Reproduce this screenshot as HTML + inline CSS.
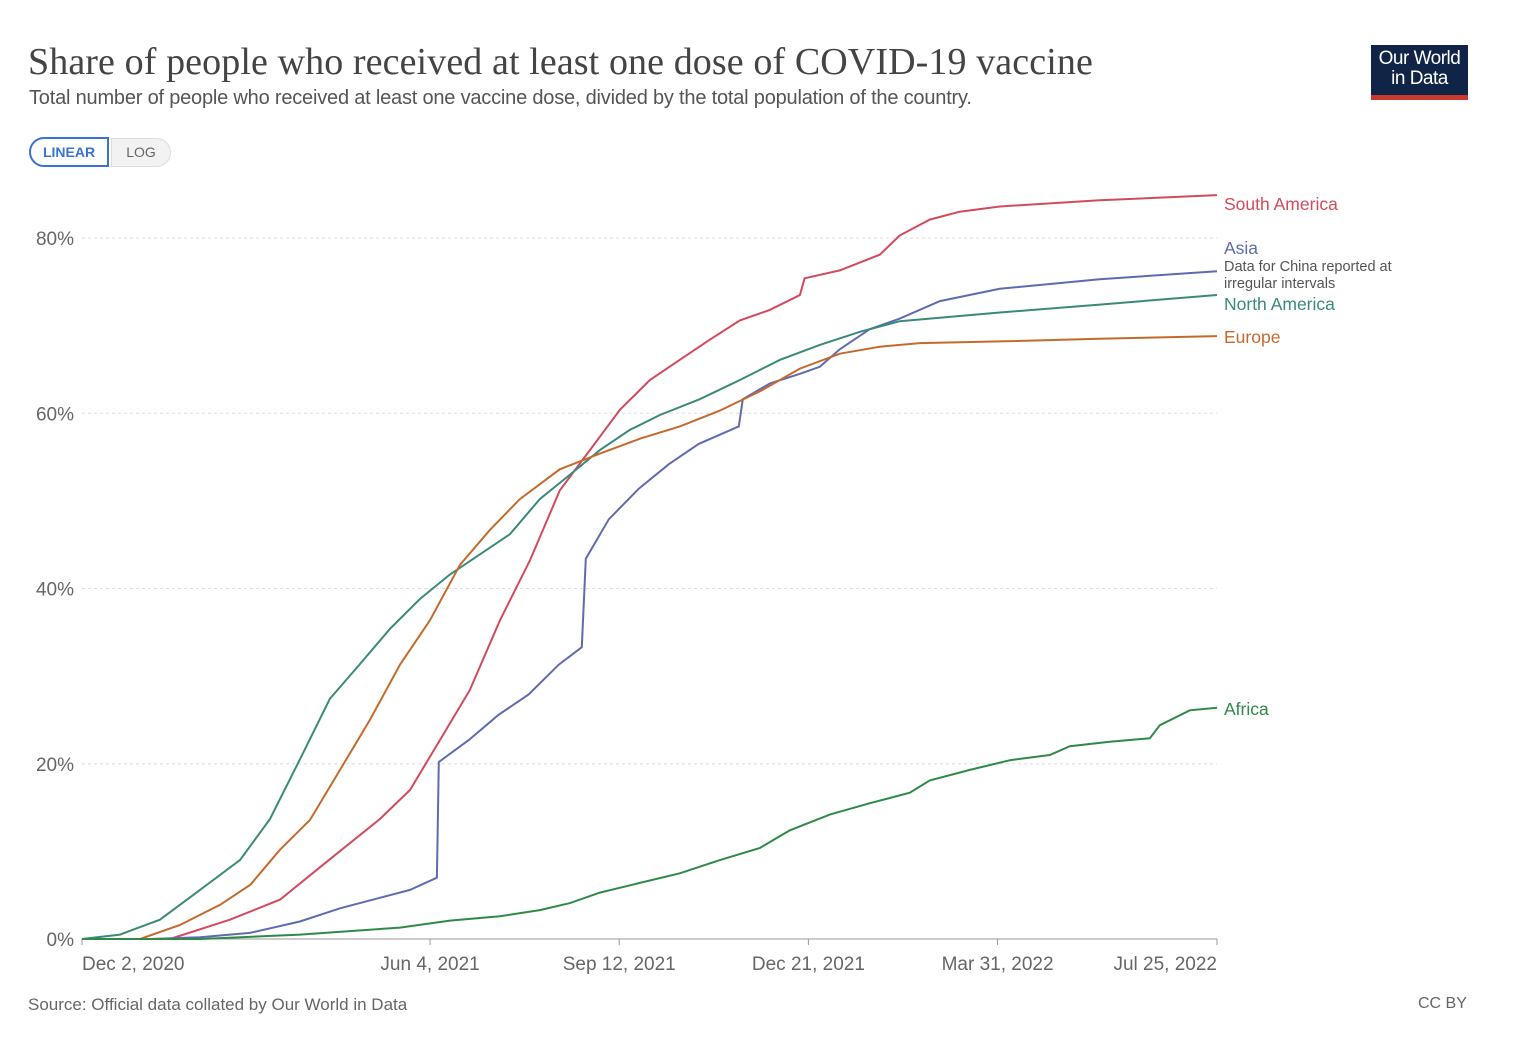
<!DOCTYPE html>
<html><head><meta charset="utf-8"><style>
body{margin:0;background:#fff;width:1536px;height:1056px;overflow:hidden;font-family:"Liberation Sans",sans-serif}
.t{position:absolute;white-space:nowrap}
</style></head><body>
<div class="t" style="left:28px;top:40px;font-family:'Liberation Serif',serif;font-size:38px;letter-spacing:0.1px;color:#444">Share of people who received at least one dose of COVID-19 vaccine</div>
<div class="t" style="left:29px;top:87px;font-size:20px;color:#555;letter-spacing:-0.2px">Total number of people who received at least one vaccine dose, divided by the total population of the country.</div>
<div style="position:absolute;left:1371px;top:45px;width:97px;height:55px;background:#0f2447;border-bottom:5px solid #c93a2c;box-sizing:border-box;color:#fff;font-size:19px;line-height:20px;text-align:center;padding-top:4px;letter-spacing:-0.5px">Our World<br>in Data</div>
<div style="position:absolute;left:29px;top:137px;width:80px;height:30px;border:2px solid #3b73d1;border-radius:16px 0 0 16px;box-sizing:border-box;color:#3b73d1;font-size:14px;font-weight:bold;text-align:center;line-height:27px">LINEAR</div>
<div style="position:absolute;left:111px;top:138px;width:60px;height:29px;background:#f2f2f2;border:1px solid #ddd;border-radius:0 16px 16px 0;box-sizing:border-box;color:#666;font-size:14px;text-align:center;line-height:27px">LOG</div>
<svg id="chart" style="position:absolute;left:0;top:0" width="1536" height="1056"></svg>
<div class="t" style="left:28px;top:995px;font-size:17px;color:#666">Source: Official data collated by Our World in Data</div>
<div class="t" style="left:1418px;top:995px;font-size:16px;color:#666">CC BY</div>
<script>
const yTicks=[0,20,40,60,80];
const xTickDays=[0,184,284,384,484,600];
const xTickLabels=["Dec 2, 2020","Jun 4, 2021","Sep 12, 2021","Dec 21, 2021","Mar 31, 2022","Jul 25, 2022"];
const saDays=[0,46.5,78.2,104.7,131,157.5,173.4,189.2,205,221,236.8,252.6,268.5,284.4,300.2,316,332,347.8,363.6,379.5,382,400.6,421.8,432.3,448.2,464,485.2,538,600];
const saVals=[0,0,2.2,4.5,9.1,13.7,17.0,22.7,28.4,36.4,43.2,51.2,55.8,60.4,63.8,66.1,68.4,70.6,71.8,73.5,75.4,76.3,78.1,80.3,82.1,83.0,83.6,84.3,84.9];
const naDays=[0,20.1,41.2,62.4,83.5,99.4,115.2,131,147,162.8,178.6,194.5,210.4,226.2,242,258,273.8,289.6,305.5,326.6,347.8,369,390,411.2,432.3,458.7,485.2,538,600];
const naVals=[0,0.5,2.2,5.6,9.0,13.7,20.5,27.4,31.4,35.4,38.8,41.6,43.9,46.2,50.2,53.0,55.8,58.1,59.8,61.6,63.8,66.1,67.8,69.3,70.5,71.0,71.5,72.4,73.5];
const euDays=[0,30.7,51.8,73,89,104.7,120.6,136.4,152.2,168.1,184,199.8,215.7,231.5,252.6,273.8,294.9,316,337.2,358.4,379.5,400.6,421.8,442.9,485.2,538,600];
const euVals=[0,0,1.6,3.9,6.2,10.2,13.6,19.3,25.0,31.3,36.4,42.7,46.7,50.2,53.6,55.4,57.1,58.5,60.3,62.5,65.1,66.8,67.6,68.0,68.2,68.5,68.8];
const asDays=[0,35.9,62.4,88.8,115.2,136.4,157.5,173.4,187.6,188.6,204.4,220.3,236.1,252,264.2,266.3,278.5,294.4,310.3,326,347.2,349.3,363.6,379.5,390,400.6,416.5,432.3,453.5,485.2,538,600];
const asVals=[0,0,0.2,0.7,2.0,3.5,4.7,5.6,7.0,20.2,22.7,25.6,27.9,31.3,33.3,43.4,47.9,51.4,54.2,56.5,58.5,61.6,63.4,64.5,65.3,67.3,69.6,70.8,72.8,74.2,75.3,76.2];
const afDays=[0,62.4,115.2,168.1,194.5,221,242,258,273.8,294.9,316,337.2,358.4,374.2,395.3,416.5,437.6,448.2,469.4,490.5,511.6,522.2,543.3,564.5,569.8,585.6,600];
const afVals=[0,0,0.5,1.3,2.1,2.6,3.3,4.1,5.3,6.4,7.5,9.0,10.4,12.4,14.2,15.5,16.7,18.1,19.3,20.4,21.0,22.0,22.5,22.9,24.4,26.1,26.4];
const series=[
 {name:"south-america",label:"South America",days:saDays,vals:saVals,color:"#d34a5c",ly:204},
 {name:"asia",label:"Asia",days:asDays,vals:asVals,color:"#5f6bb0",ly:248},
 {name:"north-america",label:"North America",days:naDays,vals:naVals,color:"#3a8a78",ly:304},
 {name:"europe",label:"Europe",days:euDays,vals:euVals,color:"#c56a2c",ly:337},
 {name:"africa",label:"Africa",days:afDays,vals:afVals,color:"#2f8a47",ly:709}];
const X0=82,X1=1217,Y0=939,Y80=238;
const x=d=>X0+(X1-X0)*d/600;
const y=v=>Y0-(Y0-Y80)*v/80;
const svg=document.getElementById('chart');
const NS="http://www.w3.org/2000/svg";
function mk(tag,attrs){const e=document.createElementNS(NS,tag);for(const k in attrs)e.setAttribute(k,attrs[k]);svg.appendChild(e);return e;}
yTicks.forEach(v=>{
 if(v>0){const g=mk('line',{x1:X0,x2:X1,y1:y(v),y2:y(v),stroke:'#ddd','stroke-dasharray':'3,3'});
 
 }
 const t=mk('text',{x:74,y:y(v)+7,'text-anchor':'end','font-size':'19',fill:'#666','font-family':'Liberation Sans, sans-serif'});
 t.textContent=v+'%';
 
 
});
const ax=mk('line',{x1:X0,x2:X1,y1:Y0,y2:Y0,stroke:'#999'});


xTickDays.forEach((d,i)=>{
 const tk=mk('line',{x1:x(d),x2:x(d),y1:Y0,y2:Y0+6,stroke:'#999'});
 
 
 const anchor=i==0?'start':(i==xTickDays.length-1?'end':'middle');
 const t=mk('text',{x:x(d),y:970,'text-anchor':anchor,'font-size':'19',fill:'#666','font-family':'Liberation Sans, sans-serif'});
 t.textContent=xTickLabels[i];
 
 
});
series.forEach(s=>{
 const pts=s.days.map((d,i)=>x(d).toFixed(1)+','+y(s.vals[i]).toFixed(1)).join(' ');
 const p=mk('polyline',{points:pts,fill:'none',stroke:s.color,'stroke-width':'2'});
 
 
 const t=mk('text',{x:1224,y:s.ly+6,'font-size':'17.5',fill:s.color,'font-family':'Liberation Sans, sans-serif'});
 t.textContent=s.label;
 
 
});
['Data for China reported at','irregular intervals'].forEach((l,i)=>{
 const t=mk('text',{x:1224,y:271+i*17,'font-size':'14.5',fill:'#555','font-family':'Liberation Sans, sans-serif'});
 t.textContent=l;
 
 
});
</script>
</body></html>
